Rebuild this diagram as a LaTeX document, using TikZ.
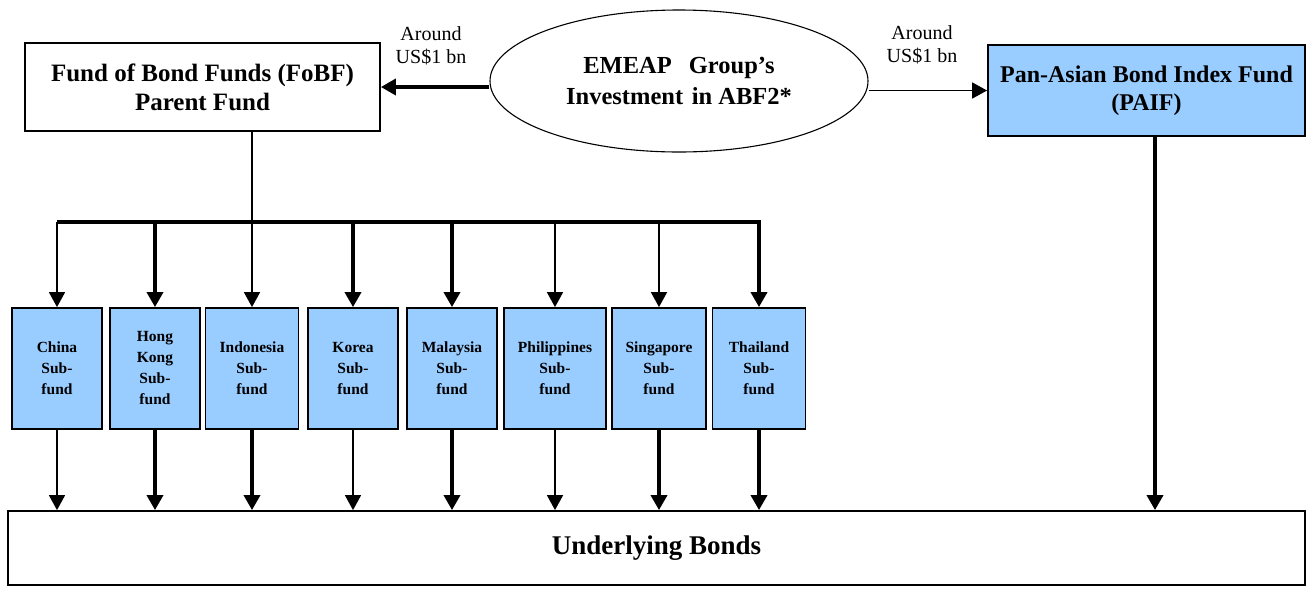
\documentclass[tikz,border=0pt]{standalone}
\usepackage{fontspec}
\setmainfont{Liberation Serif}
\usetikzlibrary{arrows.meta,shapes.geometric}
\definecolor{fundblue}{HTML}{99CCFF}
\tikzset{
  tip/.tip={Triangle[width=16pt,length=15pt]},
  thickline/.style={line width=3.6pt,-tip},
  thinline/.style={line width=1.6pt,-tip},
  mainbox/.style={draw,line width=1.8pt,inner sep=0pt,align=center,font=\fontsize{25}{29}\selectfont\bfseries},
  subbox/.style={draw,line width=1.8pt,fill=fundblue,inner sep=0pt,minimum height=121pt,align=center,font=\fontsize{15.5}{21}\selectfont\bfseries},
  amount/.style={align=center,font=\fontsize{20}{23}\selectfont},
}
\begin{document}
\begin{tikzpicture}[x=1pt,y=-1pt]
\useasboundingbox (0,0) rectangle (1312,590);
% top row
\node[mainbox,minimum width=355pt,minimum height=88pt] (fobf) at (202.5,87) {Fund of Bond Funds (FoBF)\\Parent Fund};
\node[draw,ellipse,line width=1.1pt,minimum width=378pt,minimum height=142pt,inner sep=0pt,align=center,font=\fontsize{24.5}{31}\selectfont\bfseries] (ell) at (679,81) {EMEAP\hspace{0.7em}Group’s\\Investment\hspace{0.35em}in ABF2*};
\node[mainbox,fill=fundblue,minimum width=317pt,minimum height=91pt,font=\fontsize{24}{28}\selectfont\bfseries] (paif) at (1146.5,90.5) {Pan-Asian Bond Index Fund\\(PAIF)};
\node[amount] (amtL) at (431,46) {Around\\US\$1 bn};
\node[amount] (amtR) at (922,45) {Around\\US\$1 bn};
\draw[thickline] (ell.west |- fobf.east) -- (fobf.east);
\draw[thinline] (ell.east |- paif.west) -- (paif.west);
% sub-funds
\node[subbox,minimum width=90pt] (chi) at (57,368.5) {China\\Sub-\\fund};
\node[subbox,minimum width=90pt] (hk) at (155,368.5) {Hong\\Kong\\Sub-\\fund};
\node[subbox,minimum width=93pt] (ind) at (252,368.5) {Indonesia\\Sub-\\fund};
\node[subbox,minimum width=90pt] (kor) at (353,368.5) {Korea\\Sub-\\fund};
\node[subbox,minimum width=90pt] (mal) at (452,368.5) {Malaysia\\Sub-\\fund};
\node[subbox,minimum width=102pt] (phi) at (555,368.5) {Philippines\\Sub-\\fund};
\node[subbox,minimum width=94pt] (sin) at (659,368.5) {Singapore\\Sub-\\fund};
\node[subbox,minimum width=93pt] (tha) at (759,368.5) {Thailand\\Sub-\\fund};
% underlying
\node[mainbox,minimum width=1297pt,minimum height=74pt,font=\fontsize{27}{30}\selectfont\bfseries] (und) at (656.5,548) {Underlying Bonds};
% bus
\coordinate (bus) at (0,222);
\draw[thickline] (chi.north |- bus) -- (tha.north |- bus) -- (tha.north);
\draw[thinline] (fobf.south -| ind.north) -- (ind.north);
\draw[thinline] (chi.north |- bus) -- (chi.north);
\draw[thickline] (hk.north |- bus) -- (hk.north);
\draw[thickline] (kor.north |- bus) -- (kor.north);
\draw[thickline] (mal.north |- bus) -- (mal.north);
\draw[thinline] (phi.north |- bus) -- (phi.north);
\draw[thinline] (sin.north |- bus) -- (sin.north);
% down to underlying
\draw[thinline] (chi.south) -- (chi.south |- und.north);
\draw[thickline] (hk.south) -- (hk.south |- und.north);
\draw[thickline] (ind.south) -- (ind.south |- und.north);
\draw[thinline] (kor.south) -- (kor.south |- und.north);
\draw[thickline] (mal.south) -- (mal.south |- und.north);
\draw[thinline] (phi.south) -- (phi.south |- und.north);
\draw[thickline] (sin.south) -- (sin.south |- und.north);
\draw[thickline] (tha.south) -- (tha.south |- und.north);
\draw[thickline] (paif.south -| 1155,0) -- (1155,0 |- und.north);
\end{tikzpicture}
\end{document}
